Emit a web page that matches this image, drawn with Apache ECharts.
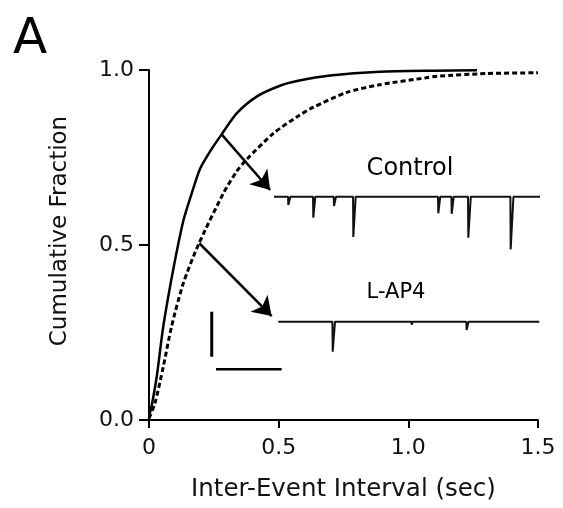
<!DOCTYPE html>
<html>
<head>
<meta charset="utf-8">
<script src="https://cdn.jsdelivr.net/npm/echarts@6/dist/echarts.min.js"></script>
<style>
html,body{margin:0;padding:0;background:#fff;}
#chart{width:563px;height:508px;}
</style>
</head>
<body>
<div id="chart"></div>
<script>
// ---- Data ----
const panelLabel = 'A';
const xAxisTitle = 'Inter-Event Interval (sec)';
const yAxisTitle = 'Cumulative Fraction';
const xTickValues = [0, 0.5, 1.0, 1.5];
const xTickLabels = ['0', '0.5', '1.0', '1.5'];
const yTickValues = [0, 0.5, 1.0];
const yTickLabels = ['0.0', '0.5', '1.0'];

// Cumulative distributions (interval in s, cumulative fraction)
const controlX = [0, 0.010, 0.030, 0.055, 0.094, 0.132, 0.165, 0.197, 0.242, 0.280, 0.338, 0.415, 0.505, 0.575, 0.698, 0.890, 1.100, 1.265];
const controlY = [0.01, 0.040, 0.125, 0.267, 0.432, 0.568, 0.648, 0.718, 0.775, 0.816, 0.876, 0.924, 0.955, 0.969, 0.984, 0.995, 0.998, 0.999];
const lap4X = [0, 0.023, 0.055, 0.087, 0.132, 0.190, 0.287, 0.338, 0.377, 0.480, 0.570, 0.632, 0.763, 0.890, 1.070, 1.110, 1.300, 1.500];
const lap4Y = [0.005, 0.048, 0.152, 0.267, 0.390, 0.500, 0.648, 0.710, 0.745, 0.819, 0.866, 0.893, 0.936, 0.958, 0.978, 0.982, 0.990, 0.992];

// Arrows: [start, end] in (interval, fraction)
const controlArrow = [[0.280, 0.816], [0.467, 0.657]];
const lap4Arrow = [[0.194, 0.505], [0.473, 0.297]];

// Example current traces (time s, current pA)
const traceNames = ['Control', 'L-AP4'];
const controlTraceT = [0, 0.43, 0.436, 0.50, 1.19, 1.198, 1.26, 1.82, 1.829, 1.89, 2.41, 2.418, 2.49, 5.00, 5.009, 5.07, 5.41, 5.418, 5.48, 5.915, 5.924, 6.00, 7.207, 7.216, 7.30, 8.11];
const controlTraceI = [0, 0, -3.7, 0, 0, -9.3, 0, 0, -4.1, 0, 0, -17.9, 0, 0, -7.4, 0, 0, -7.6, 0, 0, -18.2, 0, 0, -23.4, 0, 0];
const lap4TraceT = [0, 1.65, 1.659, 1.73, 4.06, 4.067, 4.10, 5.735, 5.744, 5.80, 7.96];
const lap4TraceI = [0, 0, -13.3, 0, 0, -1.3, 0, 0, -3.7, 0, 0];

// Scale bars
const scaleBarTime = [0, 2];   // s
const scaleBarCurrent = [0, 20]; // pA

// ---- Build ----
const zip = (a, b) => a.map((v, i) => [v, b[i]]);
const FONT = "'DejaVu Sans', 'Liberation Sans', Arial, sans-serif";
const INK = '#000';

const chart = echarts.init(document.getElementById('chart'), null, {renderer: 'canvas'});

const hiddenAxis = (extra) => Object.assign({
  show: false, type: 'value', scale: false
}, extra);

const option = {
  backgroundColor: '#fff',
  animation: false,
  grid: [
    {left: 149, right: 25, top: 70, bottom: 88},
    {left: 274, right: 23, top: 185.45, bottom: 243.8},
    {left: 278.3, right: 23.7, top: 310.45, bottom: 118.8},
    {left: 211.07, right: 281.3, top: 311.7, bottom: 137.8}
  ],
  xAxis: [
    {
      gridIndex: 0, type: 'value', min: 0, max: 1.5, interval: 0.5,
      axisLine: {show: true, onZero: false, lineStyle: {color: INK, width: 2}},
      axisTick: {show: true, inside: false, length: 8, lineStyle: {color: INK, width: 2}},
      splitLine: {show: false},
      axisLabel: {
        margin: 17, color: '#111', fontSize: 22, fontFamily: FONT,
        formatter: v => { const i = xTickValues.findIndex(t => Math.abs(t - v) < 1e-9); return i >= 0 ? xTickLabels[i] : ''; }
      },
      name: xAxisTitle, nameLocation: 'middle', nameGap: 57,
      nameTextStyle: {color: '#111', fontSize: 24.5, fontFamily: FONT}
    },
    hiddenAxis({gridIndex: 1, min: 0, max: 8.11}),
    hiddenAxis({gridIndex: 2, min: 0, max: 7.96}),
    hiddenAxis({gridIndex: 3, min: -0.15, max: 2})
  ],
  yAxis: [
    {
      gridIndex: 0, type: 'value', min: 0, max: 1, interval: 0.5,
      axisLine: {show: true, onZero: false, lineStyle: {color: INK, width: 2}},
      axisTick: {show: true, inside: false, length: 10, lineStyle: {color: INK, width: 2}},
      splitLine: {show: false},
      axisLabel: {
        margin: 15, color: '#111', fontSize: 22, fontFamily: FONT,
        formatter: v => { const i = yTickValues.findIndex(t => Math.abs(t - v) < 1e-9); return i >= 0 ? yTickLabels[i] : ''; }
      },
      name: yAxisTitle, nameLocation: 'middle', nameGap: 77, nameRotate: 90,
      nameTextStyle: {color: '#111', fontSize: 23, fontFamily: FONT, padding: [0, 0, 0, 28]}
    },
    hiddenAxis({gridIndex: 1, min: -30, max: 5}),
    hiddenAxis({gridIndex: 2, min: -30, max: 5}),
    hiddenAxis({gridIndex: 3, min: -6, max: 20})
  ],
  series: [
    {
      name: 'Control', type: 'line', xAxisIndex: 0, yAxisIndex: 0,
      data: zip(controlX, controlY), showSymbol: false, smooth: 0.25,
      lineStyle: {color: '#000', width: 2.5}
    },
    {
      name: 'L-AP4', type: 'line', xAxisIndex: 0, yAxisIndex: 0,
      data: zip(lap4X, lap4Y), showSymbol: false, smooth: 0.25,
      lineStyle: {color: '#000', width: 3, type: [5, 3], cap: 'butt'}
    },
    {
      name: 'arrows', type: 'lines', coordinateSystem: 'cartesian2d', xAxisIndex: 0, yAxisIndex: 0,
      symbol: ['none', 'arrow'], symbolSize: 18,
      lineStyle: {color: '#000', width: 2.5, opacity: 1, curveness: 0},
      data: [{coords: controlArrow}, {coords: lap4Arrow}]
    },
    {
      name: 'Control trace', type: 'line', xAxisIndex: 1, yAxisIndex: 1,
      data: zip(controlTraceT, controlTraceI), showSymbol: false, clip: false,
      lineStyle: {color: '#111', width: 2}
    },
    {
      name: 'L-AP4 trace', type: 'line', xAxisIndex: 2, yAxisIndex: 2,
      data: zip(lap4TraceT, lap4TraceI), showSymbol: false, clip: false,
      lineStyle: {color: '#111', width: 2}
    },
    {
      name: 'scale current', type: 'line', xAxisIndex: 3, yAxisIndex: 3,
      data: scaleBarCurrent.map(c => [scaleBarTime[0] - 0.13, c]), showSymbol: false, clip: false,
      lineStyle: {color: '#000', width: 3}
    },
    {
      name: 'scale time', type: 'line', xAxisIndex: 3, yAxisIndex: 3,
      data: scaleBarTime.map(t => [t, scaleBarCurrent[0] - 5.6]), showSymbol: false, clip: false,
      lineStyle: {color: '#000', width: 2.5}
    }
  ],
  graphic: [
    {type: 'text', x: 13, y: 15, style: {text: panelLabel, font: '50px ' + FONT, fill: '#000'}},
    {type: 'text', x: 410, y: 169, style: {text: traceNames[0], font: '24px ' + FONT, fill: '#000', align: 'center', verticalAlign: 'middle'}},
    {type: 'text', x: 396, y: 293, style: {text: traceNames[1], font: '21px ' + FONT, fill: '#000', align: 'center', verticalAlign: 'middle'}}
  ]
};
chart.setOption(option);
</script>
</body>
</html>
